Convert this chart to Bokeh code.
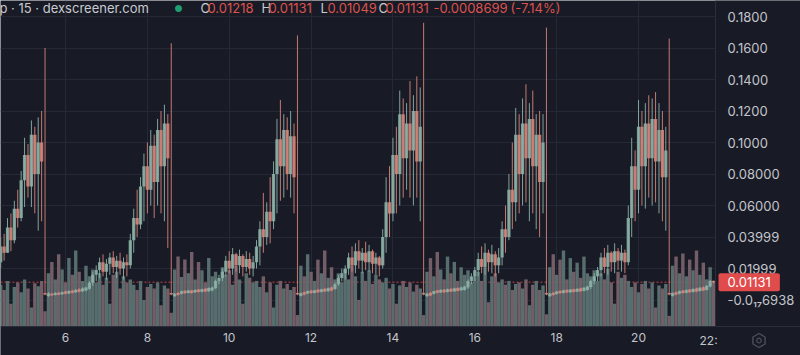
import math
import numpy as np
from bokeh.plotting import figure
from bokeh.models import (Range1d, FixedTicker, CustomJSTickFormatter, Span, Label,
                          ColumnDataSource, BoxAnnotation, PolyAnnotation)
from bokeh.embed import file_html
from bokeh.resources import INLINE

# ---------------- data (prices in thousandths, 2-hour candles) ----------------
FIRST_CANDLE_DAY = 4 + 5 / 12
CANDLE_STEP_DAYS = 1 / 12

HIGH_M = [
    40, 42, 52, 55, 63, 70, 82, 103, 99, 114, 110, 116, 120, 160,
    5.0, 4.5, 5.0, 5.2, 5.5, 6.0, 6.2, 6.5, 7.0, 7.5, 8.0, 8.5,
    12, 18, 22,
    27, 29, 26, 30, 31, 28, 30, 27, 29,
    42, 58, 70, 78, 93, 100,
    108, 105, 115, 120, 124, 118,
    163,
    4.5, 5.0, 6.0, 6.2, 6.5, 6.4, 6.8, 7.0, 7.2, 7.5, 8.0, 8.5,
    13, 16, 20,
    28, 31, 33, 30, 32, 29, 31, 30, 28,
    38, 50, 68, 62, 78, 88, 115,
    127, 118, 116, 120, 112,
    168,
    4.8, 5.5, 6.0, 6.4, 6.5, 7.0, 7.2, 7.5, 8.0, 8.5, 11,
    16, 20, 22, 30, 34, 36, 38, 33, 37, 35, 32, 30, 28,
    45, 78, 85, 103, 110, 133,
    128, 125, 139, 130, 142, 135,
    176,
    4.5, 5.0, 6.0, 6.5, 6.8, 7.0, 7.2, 7.5, 7.8, 8.0, 8.5, 9.0,
    13, 17, 21,
    30, 34, 36, 32, 35, 31, 33,
    50, 60, 80, 100, 122,
    118, 128, 137, 125, 133, 118, 120, 118,
    173,
    4.5, 5.0, 5.8, 6.2, 6.5, 6.8, 7.0, 7.2, 7.5, 7.8, 8.2, 9.0,
    13, 17, 21,
    30, 33, 35, 31, 36, 33, 35, 32,
    60, 103, 95, 127,
    120, 125, 130, 128, 132, 125, 120, 110,
    166,
    4.8, 5.5, 6.0, 6.4, 6.8, 7.0, 7.4, 7.8, 8.2, 8.6, 9.5, 12.5, 12.18,
]
LOW_M = [
    20, 25, 30, 31, 36, 46, 50, 59, 65, 59, 55, 44, 50, 3,
    2.0, 2.5, 2.8, 3.0, 3.2, 3.6, 3.8, 4.2, 4.5, 4.8, 5.0, 5.5,
    6.5, 9, 12,
    14, 15, 13, 16, 17, 14, 16, 13, 15,
    20, 30, 40, 45, 50, 55,
    60, 52, 60, 55, 50, 33,
    3,
    2.0, 2.8, 3.5, 4.0, 4.2, 4.0, 4.5, 4.8, 4.8, 5.0, 5.2, 5.5,
    7, 10, 12,
    15, 17, 16, 18, 17, 15, 18, 16, 15,
    20, 22, 30, 35, 36, 45, 55,
    63, 65, 70, 65, 55,
    3,
    2.2, 3.0, 3.8, 4.0, 4.2, 4.5, 4.8, 5.0, 5.2, 5.5, 6.5,
    9, 12, 13, 16, 18, 17, 20, 17, 19, 18, 17, 16, 15,
    20, 30, 40, 50, 55, 60,
    65, 70, 65, 60, 65, 50,
    3,
    2.0, 2.5, 3.5, 4.2, 4.5, 4.5, 4.8, 5.0, 5.2, 5.5, 5.8, 6.0,
    7, 10, 12,
    15, 17, 16, 18, 17, 15, 17,
    22, 30, 38, 45, 50,
    55, 60, 62, 50, 55, 45, 40, 55,
    3,
    2.0, 2.8, 3.4, 4.0, 4.2, 4.5, 4.6, 4.8, 5.0, 5.2, 5.5, 6.0,
    7, 10, 12,
    15, 17, 16, 18, 17, 19, 18, 17,
    22, 40, 50, 55,
    60, 58, 65, 60, 62, 55, 50, 44,
    3,
    2.2, 3.0, 3.6, 4.0, 4.2, 4.5, 4.8, 5.0, 5.3, 5.6, 6.0, 8.0, 10.49,
]
OPEN_M = [
    24, 34, 30, 46, 38, 58, 52, 76, 92, 72, 105, 80, 100, 4.5,
    2.5, 4.0, 3.2, 4.6, 3.6, 5.4, 4.2, 5.9, 4.9, 6.8, 5.5, 6.0,
    7.2, 11, 16,
    19, 24, 18, 23, 27, 21, 25, 20, 24,
    22, 38, 52, 48, 72, 85,
    70, 98, 75, 108, 85, 112,
    4.5,
    2.4, 4.5, 3.9, 5.8, 4.5, 6.0, 4.9, 6.6, 5.2, 7.1, 5.6, 6.0,
    7.5, 12, 14,
    18, 25, 20, 29, 22, 28, 21, 26, 20,
    24, 34, 45, 40, 56, 50, 80,
    102, 85, 108, 80, 104,
    4.5,
    2.6, 4.9, 4.1, 6.0, 4.5, 6.6, 5.1, 7.1, 5.6, 8.0, 7.0,
    10, 14, 17, 20, 27, 22, 31, 25, 30, 24, 31, 23, 27,
    22, 40, 62, 55, 92, 80,
    118, 90, 112, 95, 120, 88,
    4.5,
    2.4, 4.6, 3.9, 6.1, 4.8, 6.6, 5.1, 7.1, 5.5, 7.6, 6.1, 6.4,
    8, 12, 15,
    19, 26, 21, 30, 24, 29, 22,
    27, 45, 40, 70, 62,
    105, 80, 112, 90, 115, 85, 105, 75,
    4.5,
    2.4, 4.6, 3.8, 5.8, 4.5, 6.4, 4.9, 6.8, 5.3, 7.4, 5.8, 6.3,
    8.2, 12, 15,
    19, 27, 21, 30, 24, 31, 25, 30,
    24, 52, 85, 70,
    110, 85, 112, 90, 115, 88, 108, 78,
    4.5,
    2.6, 4.9, 4.0, 6.0, 4.6, 6.6, 5.1, 7.3, 5.7, 8.1, 6.4, 8.5, 12.18,
]
CLOSE_M = [
    34, 30, 46, 38, 58, 52, 76, 92, 72, 105, 80, 100, 88, 3.5,
    4.2, 3.0, 4.5, 3.4, 5.0, 4.0, 5.7, 4.6, 6.4, 5.2, 7.3, 7.9,
    11, 16, 19,
    24, 18, 23, 27, 21, 25, 20, 24, 22,
    38, 52, 48, 72, 85, 70,
    98, 75, 108, 85, 112, 90,
    3.5,
    4.0, 3.2, 5.5, 4.3, 6.1, 4.4, 6.4, 5.1, 6.8, 5.4, 7.6, 8.0,
    12, 14, 18,
    25, 20, 29, 22, 28, 21, 26, 20, 24,
    34, 45, 40, 56, 50, 80, 102,
    85, 108, 80, 104, 78,
    3.5,
    4.3, 3.4, 5.6, 4.4, 6.1, 4.9, 6.8, 5.4, 7.5, 6.0, 10,
    14, 17, 20, 27, 22, 31, 25, 30, 24, 31, 23, 27, 22,
    40, 62, 55, 92, 80, 118,
    90, 112, 95, 120, 88, 110,
    3.5,
    4.0, 2.9, 5.6, 4.5, 6.4, 4.9, 6.8, 5.3, 7.4, 5.8, 8.0, 8.6,
    12, 15, 19,
    26, 21, 30, 24, 29, 22, 27,
    45, 40, 70, 62, 105,
    80, 112, 90, 115, 85, 105, 75, 100,
    3.5,
    4.1, 3.2, 5.4, 4.3, 6.1, 4.8, 6.6, 5.1, 7.1, 5.5, 7.8, 8.6,
    12, 15, 19,
    27, 21, 30, 24, 31, 25, 30, 24,
    52, 85, 70, 110,
    85, 112, 90, 115, 88, 108, 78, 95,
    3.5,
    4.4, 3.4, 5.6, 4.4, 6.3, 4.9, 7.0, 5.4, 7.8, 6.0, 9.0, 12.2, 11.31,
]
VOLUME = [
    55, 48, 60, 30, 52, 58, 45, 62, 50, 25, 57, 53, 60, 20,
    70, 85, 62, 95, 75, 58, 90, 68, 100, 72, 60, 80,
    66, 75, 58,
    70, 55, 64, 30, 68, 72, 50, 66, 58,
    62, 55, 48, 60, 35, 52,
    56, 50, 58, 28, 54, 50,
    18,
    75, 92, 65, 88, 70, 98, 62, 85, 74, 58, 90, 66,
    72, 60, 78,
    68, 74, 55, 80, 62, 30, 70, 64, 58,
    60, 52, 66, 45, 58, 25, 55,
    60, 50, 56, 48, 52,
    15,
    80, 66, 95, 72, 60, 88, 70, 100, 64, 78, 62,
    70, 58, 75, 62, 80, 66, 35, 72, 60, 74, 56, 68, 62,
    58, 64, 50, 56, 30, 54,
    60, 52, 58, 46, 55, 50,
    15,
    72, 90, 66, 98, 75, 62, 92, 70, 85, 60, 78, 68,
    74, 58, 66,
    72, 60, 78, 32, 66, 70, 58,
    62, 55, 60, 48, 56,
    58, 50, 62, 28, 55, 60, 48, 54,
    16,
    78, 95, 68, 88, 100, 62, 90, 72, 84, 64, 92, 70,
    66, 74, 60,
    70, 62, 76, 58, 30, 72, 64, 68,
    60, 52, 58, 45,
    56, 60, 50, 58, 25, 54, 50, 56,
    14,
    80, 92, 70, 96, 66, 88, 74, 100, 68, 84, 62, 78, 60,
]

X_TICKS = [6, 8, 10, 12, 14, 16, 18, 20]
X_TICK_LABELS = ["6", "8", "10", "12", "14", "16", "18", "20"]
X_CUT_LABEL = "22:"
Y_TICKS = [0.18, 0.16, 0.14, 0.12, 0.10, 0.08, 0.06, 0.03999, 0.01999, 0.0]
Y_TICK_LABELS = ["0.1800", "0.1600", "0.1400", "0.1200", "0.1000", "0.08000",
                 "0.06000", "0.03999", "0.01999", "-0.0\u2081\u20876938"]
LAST_PRICE = 0.01131
LAST_PRICE_TEXT = "0.01131"
HEADER_TITLE = "p \u00b7 15 \u00b7 dexscreener.com"
HEADER_PARTS = [("O", "g"), ("0.01218", "r"), ("H", "g"), ("0.01131", "r"),
                ("L", "g"), ("0.01049", "r"), ("C", "g"), ("0.01131", "r"),
                ("-0.0008699", "r"), ("(-7.14%)", "r")]
HEADER_PART_X = [200, 207, 261, 268, 320, 327, 378, 385, 433, 510]

for arr in (LOW_M, OPEN_M, CLOSE_M, VOLUME):
    assert len(arr) == len(HIGH_M), len(arr)

# ---------------- styling / geometry ----------------
BG = "#181a25"
GRID = "#252836"
SEP = "#2b2e3b"
AXIS_TEXT = "#c3c5cc"
HDR = "#c8cad0"
RED_T = "#dc524e"
UP = "#8cb2a7"
DOWN = "#d8847a"
VOL_UP = "#5b7272"
VOL_DOWN = "#78626a"
TAG_RED = "#e04b4b"
FONT = "Inter"

W, H = 800, 355
PX_PER_DAY = 40.93
X0 = 4.4119            # day at canvas x = 0
PLOT_RIGHT = 715       # price-scale separator
PLOT_BOTTOM = 326      # time-scale separator
PX_PER_PRICE = 1575.0
Y_ZERO_PX = 299.5
VOL_PX_PER_UNIT = 0.76


def cx(px):
    return X0 + px / PX_PER_DAY


def cy(py):
    return (Y_ZERO_PX - py) / PX_PER_PRICE


n = len(HIGH_M)
t = FIRST_CANDLE_DAY + CANDLE_STEP_DAYS * np.arange(n)
hi = np.array(HIGH_M) / 1000
lo = np.array(LOW_M) / 1000
op = np.array(OPEN_M) / 1000
cl = np.array(CLOSE_M) / 1000
up = cl >= op

src = ColumnDataSource(dict(
    t=t, hi=hi, lo=lo,
    top=np.maximum(op, cl), bot=np.minimum(op, cl),
    col=[UP if u else DOWN for u in up],
    vol=VOLUME,
    vcol=[VOL_UP if u else VOL_DOWN for u in up],
))

p = figure(width=W, height=H,
           x_range=Range1d(cx(0), cx(W)),
           y_range=Range1d(cy(H), cy(0)),
           y_axis_location="right", toolbar_location=None, output_backend="svg",
           min_border_left=0, min_border_top=0, min_border_right=0, min_border_bottom=0,
           background_fill_color=BG, border_fill_color=BG, outline_line_color=None)
p.extra_y_ranges = {"vol": Range1d(-(H - PLOT_BOTTOM) / VOL_PX_PER_UNIT,
                                   PLOT_BOTTOM / VOL_PX_PER_UNIT)}

# axes (drawn at the separators, taking no extra room)
p.yaxis.fixed_location = cx(PLOT_RIGHT)
p.xaxis.fixed_location = cy(PLOT_BOTTOM)
p.yaxis.bounds = (cy(PLOT_BOTTOM), cy(0))
p.yaxis.ticker = FixedTicker(ticks=Y_TICKS)
p.yaxis.formatter = CustomJSTickFormatter(
    args=dict(vals=Y_TICKS, labels=Y_TICK_LABELS),
    code="const i = vals.findIndex(v => Math.abs(v - tick) < 1e-9); return i >= 0 ? labels[i] : '';")
p.xaxis.ticker = FixedTicker(ticks=X_TICKS)
p.xaxis.formatter = CustomJSTickFormatter(
    args=dict(vals=X_TICKS, labels=X_TICK_LABELS),
    code="const i = vals.findIndex(v => Math.abs(v - tick) < 1e-9); return i >= 0 ? labels[i] : '';")
for ax, size, stand in ((p.yaxis, "13px", 12), (p.xaxis, "12px", 6)):
    ax.major_tick_line_color = None
    ax.minor_tick_line_color = None
    ax.major_tick_out = 0
    ax.major_tick_in = 0
    ax.minor_tick_out = 0
    ax.minor_tick_in = 0
    ax.axis_line_color = SEP
    ax.major_label_text_color = AXIS_TEXT
    ax.major_label_text_font = FONT
    ax.major_label_text_font_size = size
    ax.major_label_standoff = stand

p.xgrid.ticker = FixedTicker(ticks=X_TICKS)
p.ygrid.ticker = FixedTicker(ticks=Y_TICKS)
p.xgrid.grid_line_color = GRID
p.ygrid.grid_line_color = GRID

# last price line (under everything else)
p.add_layout(Span(location=LAST_PRICE, dimension="width", line_color=TAG_RED,
                  line_dash="2 2", line_width=1, line_alpha=0.85, level="underlay"))

# scale panels cover the grid
p.add_layout(BoxAnnotation(left=cx(PLOT_RIGHT), fill_color=BG, fill_alpha=1,
                           line_color=None, level="glyph"))
p.add_layout(BoxAnnotation(top=cy(PLOT_BOTTOM), fill_color=BG, fill_alpha=1,
                           line_color=None, level="glyph"))

# volume
p.vbar(x="t", width=CANDLE_STEP_DAYS, top="vol", bottom=0, y_range_name="vol",
       fill_color="vcol", line_color=None, fill_alpha=0.95, source=src)

# candles
p.segment(x0="t", y0="lo", x1="t", y1="hi", line_color="col", line_width=1,
          line_alpha=0.9, source=src)
p.vbar(x="t", width=0.08, top="top", bottom="bot", fill_color="col",
       line_color=None, fill_alpha=0.88, source=src)

# price tag
p.add_layout(Label(x=cx(718), y=LAST_PRICE, text=LAST_PRICE_TEXT, text_baseline="middle",
                   text_color="white", text_font=FONT, text_font_size="13px",
                   background_fill_color=TAG_RED, padding=(9, 4), border_radius=2))

# header
p.add_layout(Label(x=cx(-1), y=cy(7), text=HEADER_TITLE, text_color=HDR, text_font=FONT,
                   text_font_size="13px", text_baseline="alphabetic"))
p.add_layout(Label(x=cx(178), y=cy(6.5), text="\u25cf", text_color="#1f9e75",
                   text_align="center", text_baseline="middle", text_font_size="16px"))
for (txt, kind), xpx in zip(HEADER_PARTS, HEADER_PART_X):
    p.add_layout(Label(x=cx(xpx), y=cy(7), text=txt, text_color=HDR if kind == "g" else RED_T,
                       text_font=FONT, text_font_size="13px", text_baseline="alphabetic"))

# truncated last time label
p.add_layout(Label(x=cx(699), y=cy(340), text=X_CUT_LABEL, text_color=AXIS_TEXT, text_font=FONT,
                   text_font_size="12px", text_baseline="middle"))

# settings icon: hexagon with a small ring
gx, gy = 758.5, 340.0
hex_x = [cx(gx + 7 * math.cos(math.radians(90 + 60 * k))) for k in range(6)]
hex_y = [cy(gy - 7 * math.sin(math.radians(90 + 60 * k))) for k in range(6)]
p.add_layout(PolyAnnotation(xs=hex_x, ys=hex_y, fill_alpha=0, line_color=AXIS_TEXT,
                            line_width=1.4))
ring_x = [cx(gx + 2.3 * math.cos(math.radians(30 * k))) for k in range(12)]
ring_y = [cy(gy - 2.3 * math.sin(math.radians(30 * k))) for k in range(12)]
p.add_layout(PolyAnnotation(xs=ring_x, ys=ring_y, fill_alpha=0, line_color=AXIS_TEXT,
                            line_width=1.2))

open("out.html", "w").write(file_html(p, INLINE))
